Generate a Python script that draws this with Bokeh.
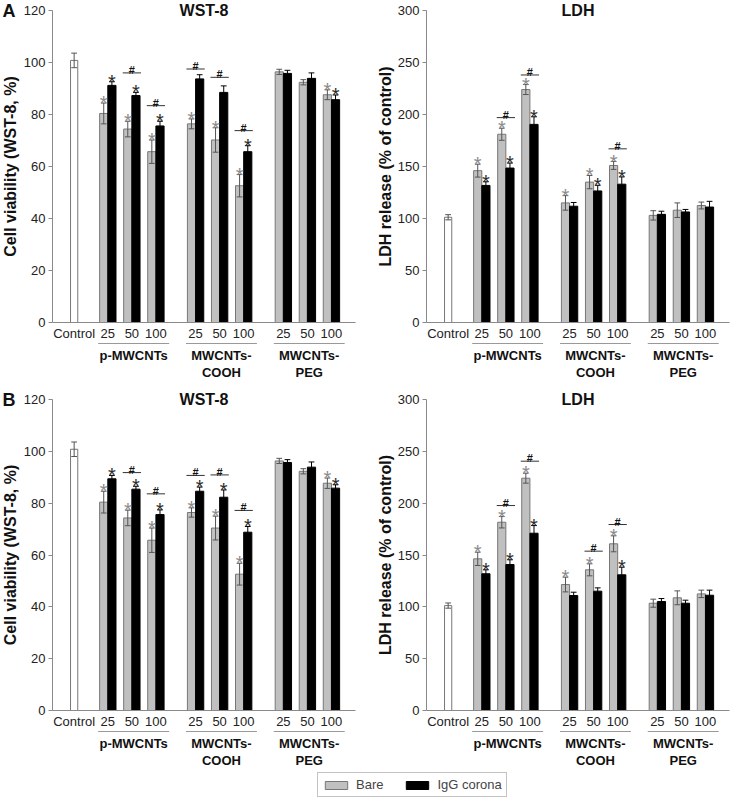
import math
from bokeh.plotting import figure
from bokeh.models import Range1d, LinearAxis, FixedTicker, Legend, LegendItem
from bokeh.layouts import column, row
from bokeh.embed import file_html
from bokeh.resources import INLINE
from bokeh.core.properties import value

# ---------------- data ----------------
control_label = "Control"
doses = ["25", "50", "100"]
groups = ["p-MWCNTs", "MWCNTs-COOH", "MWCNTs-PEG"]
group_display = ["p-MWCNTs", "MWCNTs-\nCOOH", "MWCNTs-\nPEG"]
series_names = ["Bare", "IgG corona"]

wst_control, wst_control_err = 100.8, 2.8
ldh_control, ldh_control_err = 101.2, 2.5

# Panel A
wstA_bare = [80.4, 74.4, 65.7, 76.4, 70.2, 52.6, 96.4, 92.4, 87.6]
wstA_bare_err = [4.0, 3.0, 4.5, 1.9, 4.7, 4.3, 1.0, 1.0, 1.9]
wstA_igg = [91.2, 87.3, 75.6, 93.7, 88.5, 65.7, 95.8, 93.9, 85.7]
wstA_igg_err = [1.4, 1.2, 1.8, 1.6, 2.5, 2.3, 1.2, 2.1, 1.8]
wstA_bare_star = [1, 1, 1, 1, 1, 1, 0, 0, 1]
wstA_igg_star = [1, 1, 1, 0, 0, 1, 0, 0, 1]
wstA_hash_idx = [1, 2, 3, 4, 5]
wstA_hash_lvl = [96.0, 83.4, 97.5, 94.3, 73.8]

ldhA_bare = [146.0, 181.0, 224.0, 115.0, 135.0, 151.0, 103.0, 108.0, 112.5]
ldhA_bare_err = [6.2, 5.8, 4.8, 7.0, 6.4, 3.8, 4.5, 7.0, 3.3]
ldhA_igg = [131.8, 148.5, 190.5, 111.8, 126.5, 133.0, 104.0, 106.3, 111.0]
ldhA_igg_err = [3.5, 4.8, 7.3, 3.6, 5.4, 7.0, 3.0, 2.4, 5.5]
ldhA_bare_star = [1, 1, 1, 1, 1, 1, 0, 0, 0]
ldhA_igg_star = [1, 1, 1, 0, 1, 1, 0, 0, 0]
ldhA_hash_idx = [1, 2, 5]
ldhA_hash_lvl = [197.0, 238.0, 167.0]

# Panel B
wstB_bare = [80.4, 74.3, 65.7, 76.4, 70.4, 52.6, 96.3, 92.3, 87.7]
wstB_bare_err = [4.2, 3.0, 4.7, 1.8, 4.6, 4.2, 1.0, 1.0, 2.0]
wstB_igg = [89.4, 85.4, 75.6, 84.6, 82.3, 68.8, 95.7, 93.9, 85.8]
wstB_igg_err = [1.3, 1.1, 1.8, 1.6, 2.8, 2.2, 1.1, 2.0, 1.3]
wstB_bare_star = [1, 1, 1, 1, 1, 1, 0, 0, 1]
wstB_igg_star = [1, 1, 1, 1, 1, 1, 0, 0, 1]
wstB_hash_idx = [1, 2, 3, 4, 5]
wstB_hash_lvl = [91.8, 83.6, 90.7, 90.9, 77.2]

ldhB_bare = [146.3, 181.6, 224.1, 121.5, 135.7, 160.8, 103.5, 108.7, 112.5]
ldhB_bare_err = [6.4, 5.5, 4.8, 7.1, 5.8, 7.7, 3.9, 6.7, 3.6]
ldhB_igg = [131.9, 140.8, 171.0, 110.9, 115.1, 130.9, 105.1, 103.5, 111.2]
ldhB_igg_err = [3.8, 4.6, 7.4, 3.2, 3.2, 7.3, 2.9, 2.9, 4.9]
ldhB_bare_star = [1, 1, 1, 1, 1, 1, 0, 0, 0]
ldhB_igg_star = [1, 1, 1, 0, 0, 1, 0, 0, 0]
ldhB_hash_idx = [1, 2, 4, 5]
ldhB_hash_lvl = [197.7, 240.5, 153.7, 179.4]

wst_ticks = [0, 20, 40, 60, 80, 100, 120]
ldh_ticks = [0, 50, 100, 150, 200, 250, 300]

# ---------------- style ----------------
FONT = "Liberation Sans"
AX = "#8a8a8a"
GRAY = "#c0c0c0"
GRAY_LINE = "#777777"
GRAY_ERR = "#555555"
STAR_GRAY = "#8a8a8a"
STAR_DARK = "#2a2a2a"
X0, X1 = -0.9, 11.7  # x-axis extent
XPX = 303 / (X1 - X0)  # px per x unit
BW = 0.34
OFF = 0.17
CAP = 0.12

dose_pos = [round(1.4 + g * 3.65 + d, 2) for g in range(3) for d in range(3)]


def panel(letter, title, ylabel, ymax, yticks, ctrl, ctrl_err,
          bare, bare_err, igg, igg_err, bare_star, igg_star, hash_idx, hash_lvl,
          width, left_px, height, top_px, axis_px, ylabel_px):
    k = axis_px / ymax
    y_end = ymax + top_px / k
    y_start = -(height - top_px - axis_px) / k
    x_start = X0 - left_px / XPX
    x_end = x_start + width / XPX
    p = figure(width=width, height=height, x_range=Range1d(x_start, x_end),
               y_range=Range1d(y_start, y_end), output_backend="svg",
               toolbar_location=None, x_axis_location=None, y_axis_location=None,
               min_border=0, outline_line_color=None)
    p.title.visible = False
    p.grid.visible = False

    yax = LinearAxis(fixed_location=X0, bounds=(0, ymax), ticker=FixedTicker(ticks=yticks),
                     axis_line_color=AX, major_tick_line_color=AX, major_tick_out=4,
                     major_tick_in=0, minor_tick_line_color=None,
                     major_label_text_font=FONT, major_label_text_font_size="13px",
                     major_label_text_color="#222222", major_label_standoff=3)
    p.add_layout(yax, "left")

    tpos = [0.0] + dose_pos
    tlab = [control_label] + doses * 3
    xax = LinearAxis(fixed_location=0, bounds=(X0, X1), ticker=FixedTicker(ticks=tpos),
                     major_label_overrides={t: l for t, l in zip(tpos, tlab)},
                     axis_line_color=AX, major_tick_line_color=None, minor_tick_line_color=None,
                     major_tick_out=0, major_tick_in=0,
                     major_label_text_font=FONT, major_label_text_font_size="13px",
                     major_label_text_color="#222222", major_label_standoff=3)
    p.add_layout(xax, "below")

    xb = [x - OFF for x in dose_pos]
    xi = [x + OFF for x in dose_pos]

    # bars
    p.vbar(x=[0.0], top=[ctrl], width=0.3, bottom=0, fill_color="white", line_color=GRAY_LINE)
    p.vbar(x=xb, top=bare, width=BW, bottom=0, fill_color=GRAY, line_color=GRAY_LINE)
    p.vbar(x=xi, top=igg, width=BW, bottom=0, fill_color="black", line_color="black")

    # error bars
    def err(xs, tops, errs, color):
        lo = [t - e for t, e in zip(tops, errs)]
        hi = [t + e for t, e in zip(tops, errs)]
        p.segment(x0=xs, y0=lo, x1=xs, y1=hi, line_color=color, line_width=1)
        p.segment(x0=[x - CAP for x in xs], y0=hi, x1=[x + CAP for x in xs], y1=hi,
                  line_color=color, line_width=1)
        p.segment(x0=[x - CAP for x in xs], y0=lo, x1=[x + CAP for x in xs], y1=lo,
                  line_color=color, line_width=1)

    err([0.0], [ctrl], [ctrl_err], GRAY_ERR)
    err(xb, bare, bare_err, GRAY_ERR)
    err(xi, igg, igg_err, "black")

    # significance asterisks
    def stars(xs, tops, errs, flags, color):
        sx = [x for x, f in zip(xs, flags) if f]
        sy = [t + e for t, e, f in zip(tops, errs, flags) if f]
        p.text(x=sx, y=sy, text=["*"] * len(sx), text_font=value(FONT),
               text_font_size=value("20px"), text_color=color, text_align="center",
               text_baseline="alphabetic", y_offset=0)

    stars(xb, bare, bare_err, bare_star, STAR_GRAY)
    stars(xi, igg, igg_err, igg_star, STAR_DARK)

    # '#' markers with lines
    hx = [dose_pos[i] for i in hash_idx]
    p.segment(x0=[x - 0.38 for x in hx], y0=hash_lvl, x1=[x + 0.38 for x in hx], y1=hash_lvl,
              line_color="#333333", line_width=1)
    p.text(x=hx, y=hash_lvl, text=["#"] * len(hx), text_font=value(FONT),
           text_font_size=value("11px"), text_font_style="bold", text_color="#111111",
           text_align="center", text_baseline="alphabetic", y_offset=-3)

    # group underlines and labels
    gx0 = [dose_pos[3 * g] - 0.4 for g in range(3)]
    gx1 = [dose_pos[3 * g + 2] + 0.55 for g in range(3)]
    uy = -21 / k
    p.segment(x0=gx0, y0=[uy] * 3, x1=gx1, y1=[uy] * 3, line_color="#999999", line_width=1.2)
    p.text(x=[(a + b) / 2 for a, b in zip(gx0, gx1)], y=[0] * 3, text=group_display,
           text_font=value(FONT), text_font_size=value("13px"), text_font_style="bold",
           text_color="#111111", text_align="center", text_baseline="top", y_offset=25,
           text_line_height=1.15)

    # title
    p.text(x=[(X0 + X1) / 2], y=[ymax], text=[title], text_font=value(FONT),
           text_font_size=value("16px"), text_font_style="bold", text_color="#111111",
           text_align="center", text_baseline="middle")
    # y label
    p.text(x=[x_start + ylabel_px / XPX], y=[ymax / 2], text=[ylabel], angle=math.pi / 2,
           text_font=value(FONT), text_font_size=value("16px"), text_font_style="bold",
           text_color="#111111", text_align="center", text_baseline="middle")
    # panel letter
    if letter:
        p.text(x=[x_start + 2 / XPX], y=[ymax], text=[letter], text_font=value(FONT),
               text_font_size=value("18px"), text_font_style="bold", text_color="#111111",
               text_align="left", text_baseline="middle")
    return p


WST_LABEL = "Cell viability (WST-8, %)"
LDH_LABEL = "LDH release (% of control)"

pA1 = panel("A", "WST-8", WST_LABEL, 120, wst_ticks, wst_control, wst_control_err,
            wstA_bare, wstA_bare_err, wstA_igg, wstA_igg_err, wstA_bare_star, wstA_igg_star,
            wstA_hash_idx, wstA_hash_lvl, 365, 52, 389, 10, 312, 10)
pA2 = panel(None, "LDH", LDH_LABEL, 300, ldh_ticks, ldh_control, ldh_control_err,
            ldhA_bare, ldhA_bare_err, ldhA_igg, ldhA_igg_err, ldhA_bare_star, ldhA_igg_star,
            ldhA_hash_idx, ldhA_hash_lvl, 365, 61, 389, 10, 312, 20)
pB1 = panel("B", "WST-8", WST_LABEL, 120, wst_ticks, wst_control, wst_control_err,
            wstB_bare, wstB_bare_err, wstB_igg, wstB_igg_err, wstB_bare_star, wstB_igg_star,
            wstB_hash_idx, wstB_hash_lvl, 365, 52, 381, 10, 311, 10)
pB2 = panel(None, "LDH", LDH_LABEL, 300, ldh_ticks, ldh_control, ldh_control_err,
            ldhB_bare, ldhB_bare_err, ldhB_igg, ldhB_igg_err, ldhB_bare_star, ldhB_igg_star,
            ldhB_hash_idx, ldhB_hash_lvl, 365, 61, 381, 10, 311, 20)

# legend figure
lf = figure(width=730, height=30, x_range=Range1d(0, 1), y_range=Range1d(0, 1),
            output_backend="svg", toolbar_location=None, x_axis_location=None,
            y_axis_location=None, min_border=0, outline_line_color=None)
lf.title.visible = False
lf.grid.visible = False
r1 = lf.vbar(x=[5], top=[1], width=0.1, fill_color=GRAY, line_color=GRAY_LINE)
r2 = lf.vbar(x=[5], top=[1], width=0.1, fill_color="black", line_color="black")
legend = Legend(items=[LegendItem(label=series_names[0], renderers=[r1]),
                       LegendItem(label=series_names[1], renderers=[r2])],
                orientation="horizontal", location=(317, 3), border_line_color="#888888",
                border_line_width=1, background_fill_color="white", padding=4, spacing=20,
                label_standoff=6, glyph_width=28, glyph_height=10, label_height=12,
                label_text_font=FONT, label_text_font_size="13px", margin=0)
lf.add_layout(legend)

layout = column(row(pA1, pA2), row(pB1, pB2), lf)
open("out.html", "w").write(file_html(layout, INLINE))
